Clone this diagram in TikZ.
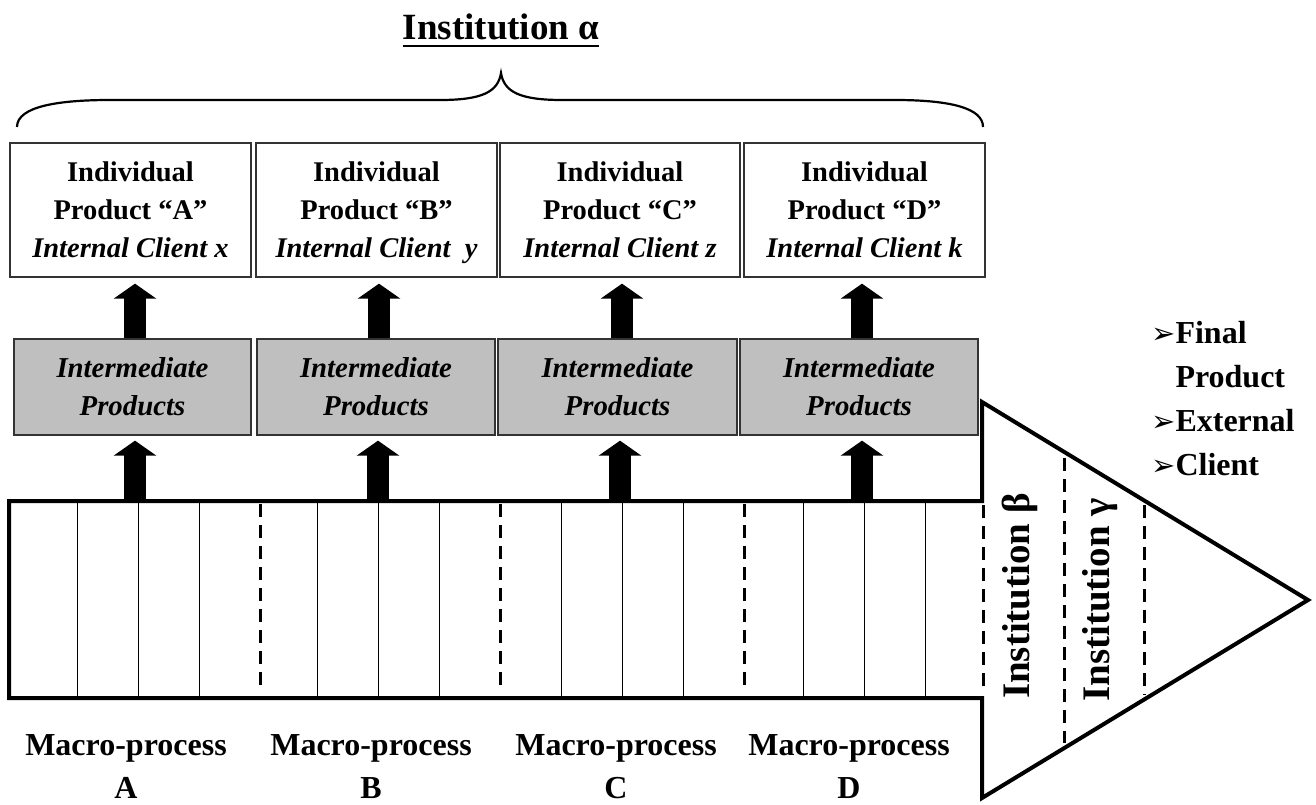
\documentclass[tikz,border=0pt]{standalone}
\usepackage{fontspec}
\setmainfont{Liberation Serif}
\newfontfamily\dejavu{DejaVu Sans}
\usetikzlibrary{arrows.meta}
\newcommand{\bul}{{\dejavu\fontsize{29}{44}\selectfont ➢}}
\begin{document}
\begin{tikzpicture}[x=1pt,y=-1pt,
  topbox/.style={draw=black!80, line width=1.3pt, minimum width=241pt, minimum height=134pt, inner sep=0pt, align=center, font=\fontsize{28.5}{38}\selectfont\bfseries},
  midbox/.style={draw=black!80, fill=black!25, line width=1.3pt, minimum height=96pt, inner sep=0pt, align=center, font=\fontsize{28.8}{38}\selectfont\bfseries\itshape},
  blk/.style={line width=22pt, -{Triangle[width=42pt,length=15pt]}},
  barline/.style={line width=1pt},
  dsh/.style={line width=3pt, dash pattern=on 13pt off 8pt},
  lbl/.style={align=center, inner sep=0pt, font=\fontsize{32}{43}\selectfont\bfseries},
  inst/.style={rotate=90, inner sep=0pt, font=\fontsize{39}{44}\selectfont\bfseries},
]
\useasboundingbox (0,0) rectangle (1316,805);
\fill[white] (0,0) rectangle (1316,805);

% title
\node[anchor=base, inner sep=0pt, font=\fontsize{37}{44}\selectfont\bfseries] (title) at (501,40) {Institution α};
\draw[line width=2.5pt] ([yshift=-6pt]title.base west) -- ([yshift=-6pt]title.base east);

% brace
\draw[line width=2.2pt] (17,127) .. controls (17,106) and (60,100) .. (110,100) -- (440,100)
  .. controls (482,100) and (498,92) .. (501,73) .. controls (504,92) and (520,100) .. (562,100)
  -- (895,100) .. controls (950,100) and (983,108) .. (983,127);

% top boxes
\node[topbox] (t1) at (130.5,210) {Individual\\Product “A”\\\textit{Internal Client x}};
\node[topbox] (t2) at (376.5,210) {Individual\\Product “B”\\\textit{Internal Client\ \ \smash{y}}};
\node[topbox, minimum width=240pt] (t3) at (620,210) {Individual\\Product “C”\\\textit{Internal Client z}};
\node[topbox] (t4) at (864.5,210) {Individual\\Product “D”\\\textit{Internal Client k}};

% intermediate boxes
\node[midbox, minimum width=237pt] (i1) at (132.5,387) {Intermediate\\Products};
\node[midbox, minimum width=238pt] (i2) at (376,387) {Intermediate\\Products};
\node[midbox, minimum width=239pt] (i3) at (617.5,387) {Intermediate\\Products};
\node[midbox, minimum width=238pt] (i4) at (859,387) {Intermediate\\Products};

% bar with arrow head
\draw[line width=4pt, line join=miter] (9,501) -- (982,501) -- (982,402) -- (1308,600) -- (982,798) -- (982,698) -- (9,698) -- cycle;
\foreach \x in {77,138,199,317,378,439,561,622,683,803,864,925}
  \draw[barline] (\x,503) -- (\x,696);
\foreach \x in {260,500,744}
  \draw[dsh] (\x,504) -- (\x,690);
\draw[dsh] (983,505) -- (983,690);
\draw[dsh] (1064,458) -- (1064,743);
\draw[dsh] (1144,505) -- (1144,695);

% arrows
\coordinate (b1) at (135,500);
\coordinate (b2) at (378,500);
\coordinate (b3) at (620,500);
\coordinate (b4) at (862,500);
\draw[blk, shorten >=5pt] (b1) -- (b1 |- i1.south);
\draw[blk, shorten >=5pt] (b2) -- (b2 |- i2.south);
\draw[blk, shorten >=5pt] (b3) -- (b3 |- i3.south);
\draw[blk, shorten >=5pt] (b4) -- (b4 |- i4.south);
\coordinate (m1) at ([xshift=2.5pt]i1.north);
\coordinate (m2) at ([xshift=3pt]i2.north);
\coordinate (m3) at ([xshift=4.5pt]i3.north);
\coordinate (m4) at ([xshift=3pt]i4.north);
\draw[blk, shorten >=6pt] (m1) -- (m1 |- t1.south);
\draw[blk, shorten >=6pt] (m2) -- (m2 |- t2.south);
\draw[blk, shorten >=6pt] (m3) -- (m3 |- t3.south);
\draw[blk, shorten >=6pt] (m4) -- (m4 |- t4.south);

% institutions in arrow head
\node[inst] (beta) at (1020,596) {Institution β};
\node[inst] (gamma) at (1100,600) {Institution γ};

% final product list
\node[anchor=north west, inner sep=0pt, align=left, font=\fontsize{32}{44}\selectfont\bfseries] (fp) at (1151,321)
  {\bul Final\\
   \hphantom{\bul}Product\\
   \bul External\\
   \bul Client};

% macro-process labels
\node[lbl] (ma) at (126,767) {Macro-process\\A};
\node[lbl] (mb) at (371,767) {Macro-process\\B};
\node[lbl] (mc) at (616,767) {Macro-process\\C};
\node[lbl] (md) at (849,767) {Macro-process\\D};
\end{tikzpicture}
\end{document}
